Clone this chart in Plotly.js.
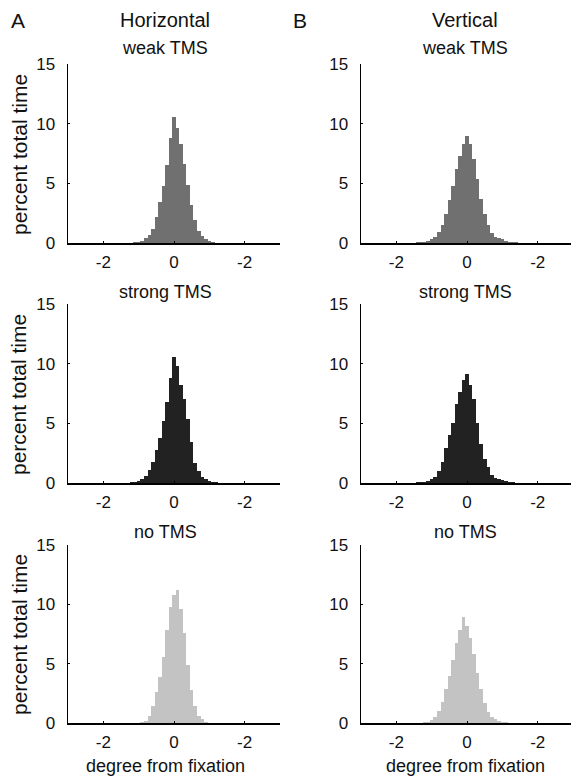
<!DOCTYPE html>
<html>
<head>
<meta charset="utf-8">
<script src="https://cdn.plot.ly/plotly-3.0.1.min.js"></script>
<style>html,body{margin:0;padding:0;background:#fff;}#chart{width:571px;height:781px;}</style>
</head>
<body>
<div id="chart"></div>
<script>
// Bin centers (degree from fixation)
const binCenters = [-1.5,-1.4,-1.3,-1.2,-1.1,-1.0,-0.9,-0.8,-0.7,-0.6,-0.5,-0.4,-0.3,-0.2,-0.1,0.0,0.1,0.2,0.3,0.4,0.5,0.6,0.7,0.8,0.9,1.0,1.1,1.2,1.3,1.4,1.5];

// Horizontal
const horizWeak   = [0,0.01,0.02,0.03,0.05,0.1,0.2,0.4,0.7,1.2,2.2,3.4,4.8,6.5,8.8,10.6,9.6,8.3,6.6,4.9,3.2,1.9,1.0,0.55,0.3,0.15,0.08,0.04,0.02,0.01,0];
const horizStrong = [0,0.01,0.03,0.05,0.08,0.15,0.3,0.6,1.1,1.8,2.8,3.8,5.2,6.8,8.8,10.6,9.8,8.2,7.0,5.4,3.4,1.7,1.0,0.5,0.3,0.2,0.12,0.06,0.03,0.01,0];
const horizNone   = [0,0,0,0.01,0.02,0.03,0.08,0.2,0.6,1.4,2.6,3.9,5.6,7.8,9.8,10.8,11.2,9.6,7.6,4.9,2.8,1.4,0.6,0.3,0.1,0.04,0.02,0.01,0,0,0];

// Vertical
const vertWeak    = [0.03,0.05,0.08,0.12,0.2,0.3,0.5,0.9,1.5,2.4,3.6,4.8,6.2,7.3,8.3,9.0,8.3,7.0,5.4,3.7,2.4,1.5,0.8,0.5,0.4,0.3,0.2,0.12,0.08,0.05,0.03];
const vertStrong  = [0.03,0.05,0.08,0.12,0.18,0.3,0.5,1.0,1.8,2.9,4.0,5.0,6.6,7.6,8.6,9.1,8.2,7.0,5.0,3.3,2.0,1.3,0.7,0.45,0.3,0.22,0.15,0.1,0.06,0.04,0.02];
const vertNone    = [0.01,0.02,0.03,0.05,0.1,0.25,0.5,1.0,1.8,2.9,4.0,5.3,6.7,7.8,8.9,8.2,7.2,5.8,4.2,2.9,1.7,0.9,0.5,0.3,0.2,0.1,0.05,0.03,0.02,0.01,0];

const xTickVals = [-2, 0, 2];
const xTickText = ['-2', '0', '-2'];
const yTickVals = [0, 5, 10, 15];

const colWeak = '#707070', colStrong = '#222222', colNone = '#c3c3c3';

const W = 571, H = 781;
const px = v => v / W;
const py = v => 1 - v / H;

function bar(y, color, xa, ya) {
  return {type: 'bar', x: binCenters, y: y, width: 0.1, xaxis: xa, yaxis: ya,
          marker: {color: color, line: {width: 0}}, hoverinfo: 'x+y'};
}

const data = [
  bar(horizWeak, colWeak, 'x', 'y'),
  bar(vertWeak, colWeak, 'x2', 'y2'),
  bar(horizStrong, colStrong, 'x3', 'y3'),
  bar(vertStrong, colStrong, 'x4', 'y4'),
  bar(horizNone, colNone, 'x5', 'y5'),
  bar(vertNone, colNone, 'x6', 'y6')
];

const font = {family: 'Liberation Sans, Arial, sans-serif', color: '#111'};
function xax(domain, range, anchor) {
  return {domain: domain, range: range, anchor: anchor, showline: true, linecolor: '#000', linewidth: 1.5,
          showgrid: false, zeroline: false, ticks: 'inside', ticklen: 2, tickwidth: 1, tickcolor: '#000',
          tickvals: xTickVals, ticktext: xTickText, tickfont: Object.assign({size: 17}, font),
          ticklabelstandoff: 3, fixedrange: true};
}
function yax(domain, anchor) {
  return {domain: domain, range: [0, 15], anchor: anchor, showline: true, linecolor: '#000', linewidth: 1.5,
          showgrid: false, zeroline: false, ticks: 'inside', ticklen: 2, tickwidth: 1, tickcolor: '#000',
          tickvals: yTickVals, tickfont: Object.assign({size: 17}, font), ticklabelstandoff: 8, fixedrange: true};
}

const xL = [px(68), px(280)], xR = [px(361), 1.0];
const rL = [-3, 3], rR = [-3, 2.94];
const row1 = [py(243), py(64)], row2 = [py(483), py(304)], row3 = [py(723), py(545)];

function ann(text, x, y, size, angle) {
  return {text: text, x: px(x), y: py(y), xref: 'paper', yref: 'paper', showarrow: false,
          xanchor: 'center', yanchor: 'middle', textangle: angle || 0,
          font: Object.assign({size: size}, font)};
}

const annotations = [
  ann('A', 18, 20, 21), ann('Horizontal', 165, 20, 20),
  ann('B', 300, 20, 21), ann('Vertical', 465, 20, 20),
  ann('weak TMS', 165, 48, 18), ann('weak TMS', 465, 48, 18),
  ann('strong TMS', 165, 292, 18), ann('strong TMS', 465, 292, 18),
  ann('no TMS', 165, 532, 18), ann('no TMS', 465, 532, 18),
  ann('percent total time', 19, 155, 21, -90),
  ann('percent total time', 19, 395, 21, -90),
  ann('percent total time', 19, 635, 21, -90),
  ann('degree from fixation', 165, 766, 18), ann('degree from fixation', 465, 766, 18)
];

const layout = {
  width: W, height: H, margin: {l: 0, r: 0, t: 0, b: 0}, paper_bgcolor: '#fff', plot_bgcolor: '#fff',
  showlegend: false, bargap: 0, font: font,
  xaxis: xax(xL, rL, 'y'), yaxis: yax(row1, 'x'),
  xaxis2: xax(xR, rR, 'y2'), yaxis2: yax(row1, 'x2'),
  xaxis3: xax(xL, rL, 'y3'), yaxis3: yax(row2, 'x3'),
  xaxis4: xax(xR, rR, 'y4'), yaxis4: yax(row2, 'x4'),
  xaxis5: xax(xL, rL, 'y5'), yaxis5: yax(row3, 'x5'),
  xaxis6: xax(xR, rR, 'y6'), yaxis6: yax(row3, 'x6'),
  annotations: annotations
};

Plotly.newPlot('chart', data, layout, {displayModeBar: false, staticPlot: true});
</script>
</body>
</html>
